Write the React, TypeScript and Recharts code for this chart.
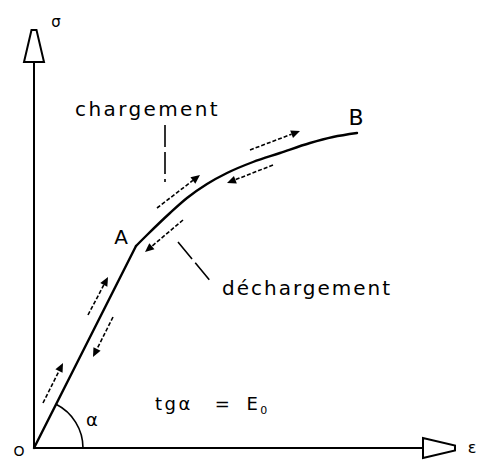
import { ComposedChart, Line, XAxis, YAxis, ReferenceLine, ReferenceDot } from 'recharts';

// σ–ε curve, arbitrary units: straight elastic part O→A, then hardening A→B
const elasticStrain = [0, 1.02];
const elasticStress = [0, 2.02];
const plasticStrain = [1.02, 1.13, 1.36, 1.53, 1.73, 1.93, 2.19, 2.46, 2.76, 2.99, 3.23];
const plasticStress = [2.02, 2.13, 2.35, 2.5, 2.64, 2.75, 2.86, 2.95, 3.05, 3.11, 3.15];

// little dashed arrows along the curve: [ε from, σ from, ε to, σ to]
const loadingArrows = [
    [0.09, 0.45, 0.29, 0.85],
    [0.54, 1.33, 0.74, 1.71],
    [1.23, 2.4, 1.66, 2.73],
    [2.16, 2.98, 2.66, 3.17],
];
const unloadingArrows = [
    [0.79, 1.31, 0.59, 0.91],
    [1.49, 2.28, 1.11, 1.96],
    [2.39, 2.83, 1.93, 2.65],
];
const leaderLines = [
    [1.31, 3.23, 1.31, 2.66],
    [1.44, 2.06, 1.78, 1.65],
];

const axisEnd = 4.18;
const strainAxisEnd = 4.21;

const plasticData = plasticStrain.map((x, i) => ({ x, y: plasticStress[i] }));

const FONT = '"DejaVu Sans", sans-serif';
const INK = '#000';

// axis with a hollow arrow head at its far end
const AxisArrow = ({ x1, y1, x2, y2 }: any) => {
    const len = Math.hypot(x2 - x1, y2 - y1);
    const ux = (x2 - x1) / len;
    const uy = (y2 - y1) / len;
    const px = -uy;
    const py = ux;
    const bx = x2 - ux * 32;
    const by = y2 - uy * 32;
    const pts = [
        [bx + px * 10, by + py * 10],
        [x2 + px * 2.5, y2 + py * 2.5],
        [x2 - px * 2.5, y2 - py * 2.5],
        [bx - px * 10, by - py * 10],
    ];
    return (
        <g>
            <line x1={x1} y1={y1} x2={bx} y2={by} stroke={INK} strokeWidth={2} />
            <polygon points={pts.map(p => p.join(',')).join(' ')} fill="#fff" stroke={INK} strokeWidth={2} />
        </g>
    );
};

// dashed arrow with a small solid head
const DashArrow = ({ x1, y1, x2, y2 }: any) => {
    const len = Math.hypot(x2 - x1, y2 - y1);
    const ux = (x2 - x1) / len;
    const uy = (y2 - y1) / len;
    const px = -uy;
    const py = ux;
    const bx = x2 - ux * 9;
    const by = y2 - uy * 9;
    return (
        <g>
            <line x1={x1} y1={y1} x2={bx} y2={by} stroke={INK} strokeWidth={1.6} strokeDasharray="4 2" />
            <polygon
                points={`${x2},${y2} ${bx + px * 4},${by + py * 4} ${bx - px * 4},${by - py * 4}`}
                fill={INK}
            />
        </g>
    );
};

const Leader = ({ x1, y1, x2, y2 }: any) => (
    <line x1={x1} y1={y1} x2={x2} y2={y2} stroke={INK} strokeWidth={1.6} strokeDasharray="22 5" />
);

// the straight elastic stretch O→A
const Elastic = ({ x1, y1, x2, y2 }: any) => (
    <line x1={x1} y1={y1} x2={x2} y2={y2} stroke={INK} strokeWidth={2.4} strokeLinecap="round" />
);

// arc marking the angle α between the elastic line and the ε axis
const slopeAngle = Math.atan2(elasticStress[1], elasticStrain[1]);
const AngleArc = ({ cx, cy }: any) => {
    const r = 49;
    const ex = cx + r * Math.cos(slopeAngle);
    const ey = cy - r * Math.sin(slopeAngle);
    return <path d={`M ${cx + r} ${cy} A ${r} ${r} 0 0 0 ${ex} ${ey}`} fill="none" stroke={INK} strokeWidth={1.6} />;
};

const textShape = (content: any, size: number, anchor = 'middle', spacing = 0) => ({ cx, cy }: any) => (
    <text
        x={cx}
        y={cy}
        fontFamily={FONT}
        fontSize={size}
        textAnchor={anchor}
        letterSpacing={spacing}
        fill={INK}
    >
        {content}
    </text>
);

const labels = [
    { x: 0.22, y: 4.21, shape: textShape('σ', 15) },
    { x: 0.41, y: 3.32, shape: textShape('chargement', 20, 'start', 2.4) },
    { x: 3.22, y: 3.23, shape: textShape('B', 22) },
    { x: 0.87, y: 2.04, shape: textShape('A', 20) },
    { x: 1.88, y: 1.53, shape: textShape('déchargement', 20, 'start', 2) },
    {
        x: 1.21,
        y: 0.38,
        shape: textShape(
            <>
                tgα
                <tspan dx={22}>=</tspan>
                <tspan dx={14}>E</tspan>
                <tspan dy={4} fontSize={11}>0</tspan>
            </>,
            18,
            'start',
            2.5
        ),
    },
    { x: 0.58, y: 0.22, shape: textShape('α', 18) },
    { x: -0.15, y: -0.08, shape: textShape('O', 14) },
    { x: 4.38, y: -0.05, shape: textShape('ε', 16) },
];

const toSegment = (s: number[]) => [
    { x: s[0], y: s[1] },
    { x: s[2], y: s[3] },
] as any;

export default function App() {
    return (
        <div style={{ width: 479, height: 460, background: '#fff' }}>
            <style>{'body { margin: 0; }'}</style>
            <ComposedChart width={479} height={460} margin={{ top: 0, right: 0, bottom: 0, left: 0 }}>
                <XAxis type="number" dataKey="x" domain={[-0.34, 4.45]} hide allowDataOverflow />
                <YAxis type="number" dataKey="y" domain={[-0.12, 4.48]} hide allowDataOverflow />

                <ReferenceLine segment={toSegment([0, 0, 0, axisEnd])} shape={AxisArrow} ifOverflow="visible" />
                <ReferenceLine segment={toSegment([0, 0, strainAxisEnd, 0])} shape={AxisArrow} ifOverflow="visible" />

                <ReferenceLine
                    segment={toSegment([elasticStrain[0], elasticStress[0], elasticStrain[1], elasticStress[1]])}
                    shape={Elastic}
                    ifOverflow="visible"
                />
                <Line
                    data={plasticData}
                    dataKey="y"
                    type="monotone"
                    stroke={INK}
                    strokeWidth={2.4}
                    strokeLinecap="round"
                    dot={false}
                    activeDot={false}
                    isAnimationActive={false}
                />

                {loadingArrows.map((s, i) => (
                    <ReferenceLine key={`load-${i}`} segment={toSegment(s)} shape={DashArrow} ifOverflow="visible" />
                ))}
                {unloadingArrows.map((s, i) => (
                    <ReferenceLine key={`unload-${i}`} segment={toSegment(s)} shape={DashArrow} ifOverflow="visible" />
                ))}
                {leaderLines.map((s, i) => (
                    <ReferenceLine key={`leader-${i}`} segment={toSegment(s)} shape={Leader} ifOverflow="visible" />
                ))}

                <ReferenceDot x={0} y={0} r={0} shape={AngleArc} ifOverflow="visible" />
                {labels.map((l, i) => (
                    <ReferenceDot key={`label-${i}`} x={l.x} y={l.y} r={0} shape={l.shape} ifOverflow="visible" />
                ))}
            </ComposedChart>
        </div>
    );
}
